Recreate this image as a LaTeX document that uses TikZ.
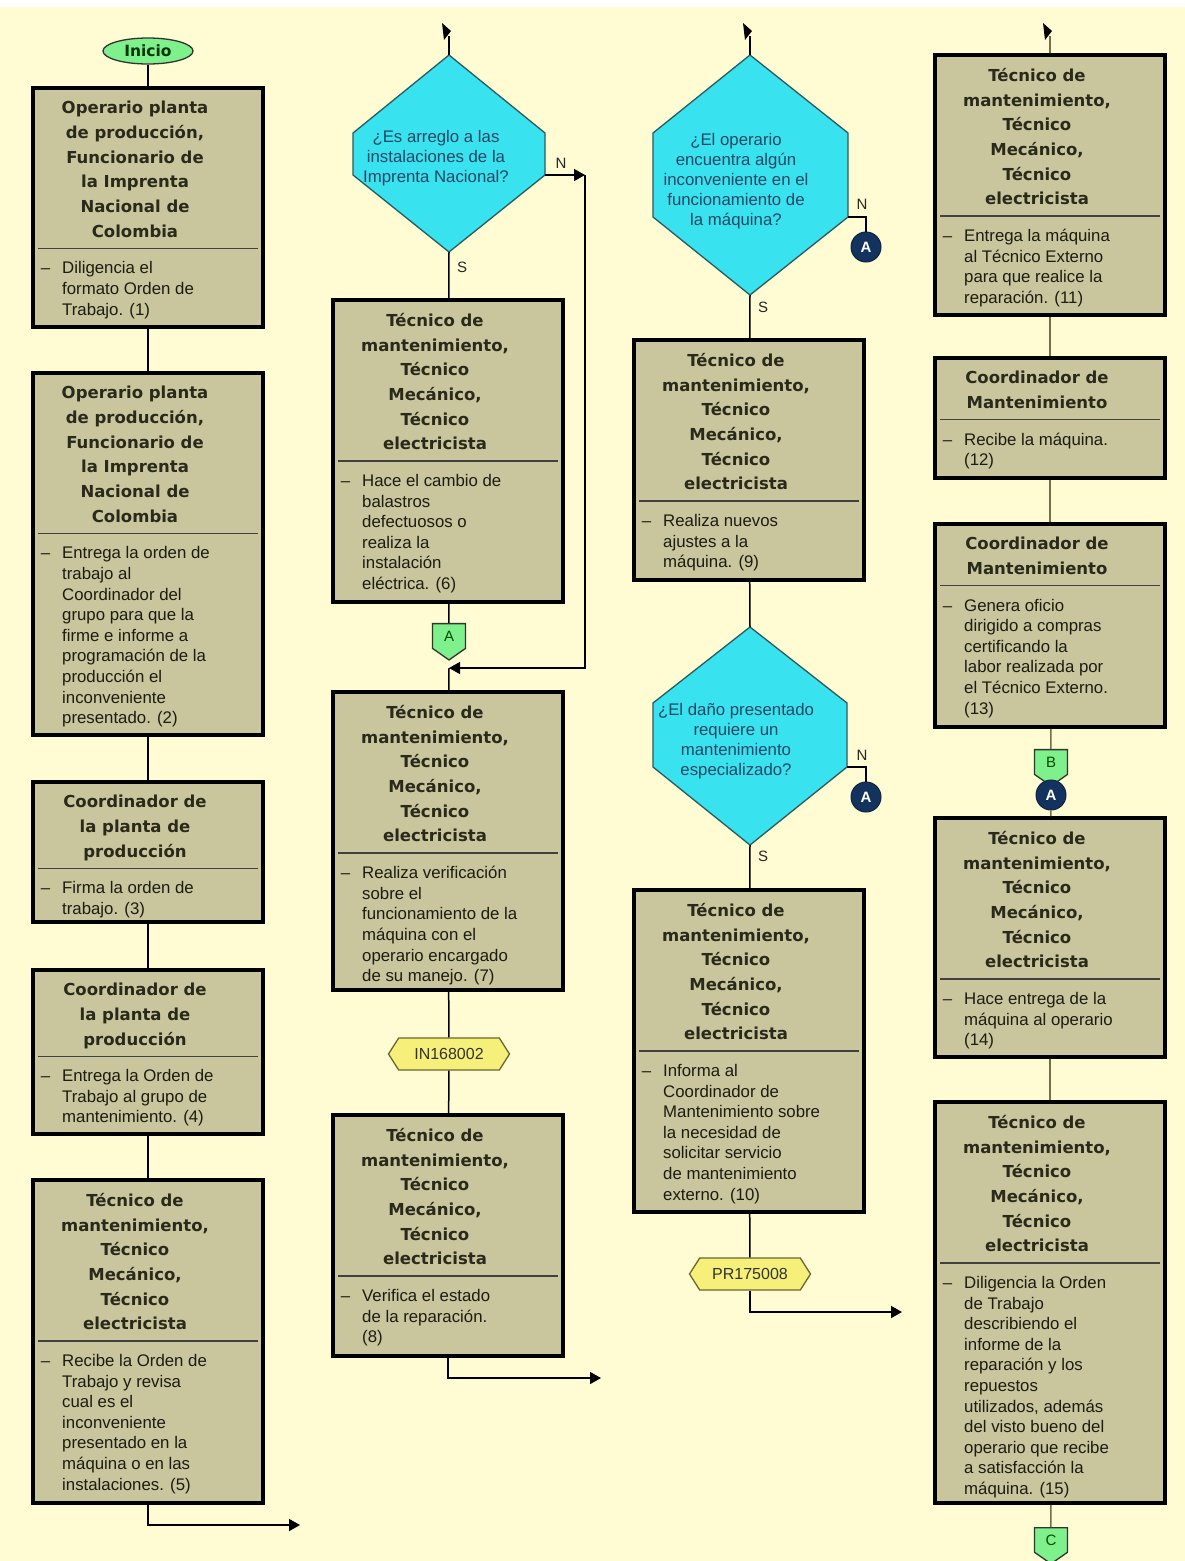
\documentclass[tikz,border=0pt]{standalone}
\usepackage{fontspec}
\setmainfont{Liberation Sans}
\newfontfamily\ttlfont{DejaVu Sans}
\usetikzlibrary{shapes.geometric,shapes.symbols,arrows.meta,fit,calc}
\definecolor{bg}{HTML}{FFFCD3}
\definecolor{boxfill}{HTML}{C9C59C}
\definecolor{cyanfill}{HTML}{38E2EF}
\definecolor{cyanline}{HTML}{2B5A5E}
\definecolor{qtext}{HTML}{234866}
\definecolor{greenfill}{HTML}{7EF08C}
\definecolor{tagfill}{HTML}{F6F07A}
\definecolor{tagline}{HTML}{6A6630}
\definecolor{navy}{HTML}{13335E}
\definecolor{brownline}{HTML}{7A6C4E}
\definecolor{ttlcol}{HTML}{2A2A1C}
\definecolor{bodycol}{HTML}{1C1C12}
\tikzset{
  procbox/.style={draw=black, line width=4pt, fill=boxfill, inner sep=0pt},
  ttl/.style={font=\ttlfont\bfseries\fontsize{16.5}{24.7}\selectfont, text=ttlcol, align=center, inner sep=0pt, text depth=4pt},
  bodytxt/.style={font=\fontsize{16.8}{20.6}\selectfont, text=bodycol, align=left, inner sep=0pt},
  sepline/.style={draw=black!75, line width=1.6pt},
  conn/.style={draw=black, line width=1.5pt},
  bconn/.style={draw=brownline, line width=1.5pt},
  arr/.style={conn, -{Triangle[length=11pt,width=12pt]}},
  decision/.style={draw=cyanline, fill=cyanfill, line width=1.3pt, line join=miter},
  qtxt/.style={font=\fontsize{16.8}{20}\selectfont, text=qtext, align=center, inner sep=0pt},
  lbl/.style={font=\fontsize{15}{18}\selectfont, text=black!85, inner sep=0pt},
  offpage/.style={shape=signal, signal to=south, signal pointer angle=110, fill=greenfill, draw=black!80, line width=1.3pt, minimum width=33pt, minimum height=29pt, inner sep=1pt, font=\fontsize{15}{18}\selectfont, text=green!30!black},
  conA/.style={circle, fill=navy, draw=navy!70!black, line width=1pt, minimum size=30pt, inner sep=0pt, font=\bfseries\fontsize{15}{18}\selectfont, text=white},
  tag/.style={shape=signal, signal to=west and east, signal pointer angle=115, fill=tagfill, draw=tagline, line width=1.3pt, minimum width=121pt, minimum height=32pt, inner sep=2pt, font=\fontsize{16}{18}\selectfont, text=black!80},
  startnode/.style={ellipse, fill=greenfill, draw=black!80, line width=1.3pt, minimum width=90pt, minimum height=26pt, inner sep=0pt, font=\ttlfont\bfseries\fontsize{15.5}{18}\selectfont, text=green!20!black},
}
\newcommand\TecTitle{Técnico de\\mantenimiento,\\Técnico\\Mecánico,\\Técnico\\electricista}
\newcommand\ProcBox[6]{%
  \coordinate (#1-nw) at (#2,#3);
  \coordinate (#1-se) at (#2+230,#4);
  \node[procbox, fit=(#1-nw)(#1-se)] (#1) {};
  \node[ttl, anchor=north] (#1-t) at (#2+102,#3+13) {#5};
  \path (#1-t.south -| #1-nw) coordinate (#1-sl) (#1-t.south -| #1-se) coordinate (#1-sr);
  \draw[sepline] ([xshift=5pt,yshift=-7pt]#1-sl) -- ([xshift=-5pt,yshift=-7pt]#1-sr);
  \node[bodytxt, anchor=north west] (#1-b) at ([xshift=29pt,yshift=-20pt]#1-sl) {\llap{–\hspace{12pt}}#6};
}
\begin{document}
\begin{tikzpicture}[x=1pt,y=-1pt]
\useasboundingbox (0,0) rectangle (1185,1561);
\fill[bg] (0,0) rectangle (1185,1561);
\fill[white] (0,0) rectangle (1185,7);

% ---------------- Column 1
\node[startnode] (start) at (148,51) {Inicio};
\ProcBox{b1}{33}{88}{327}{Operario planta\\de producción,\\Funcionario de\\la Imprenta\\Nacional de\\Colombia}{Diligencia el\\formato Orden de\\Trabajo. (1)}
\ProcBox{b2}{33}{373}{735}{Operario planta\\de producción,\\Funcionario de\\la Imprenta\\Nacional de\\Colombia}{Entrega la orden de\\trabajo al\\Coordinador del\\grupo para que la\\firme e informe a\\programación de la\\producción el\\inconveniente\\presentado. (2)}
\ProcBox{b3}{33}{782}{922}{Coordinador de\\la planta de\\producción}{Firma la orden de\\trabajo. (3)}
\ProcBox{b4}{33}{970}{1134}{Coordinador de\\la planta de\\producción}{Entrega la Orden de\\Trabajo al grupo de\\mantenimiento. (4)}
\ProcBox{b5}{33}{1180}{1503}{\TecTitle}{Recibe la Orden de\\Trabajo y revisa\\cual es el\\inconveniente\\presentado en la\\máquina o en las\\instalaciones. (5)}
\coordinate (out1) at (300,1525);
\draw[conn] (start) -- (b1);
\draw[conn] (b1) -- (b2);
\draw[conn] (b2) -- (b3);
\draw[conn] (b3) -- (b4);
\draw[conn] (b4) -- (b5);
\draw[arr] (b5.south) |- (out1);

% ---------------- Column 2
\draw[decision] (449,55) coordinate (d1-n) -- (545,133) -- (545,175) coordinate (d1-e) -- (449,252) coordinate (d1-s) -- (353,175) -- (353,133) -- cycle;
\node[qtxt] (d1) at (436,158) {¿Es arreglo a las\\instalaciones de la\\Imprenta Nacional?};
\coordinate (in2) at (449,36);
\fill (442,23) -- (451,31) -- (444,40) -- cycle;
\draw[conn] (in2) -- (d1-n);
\coordinate (d1-ne) at (585,175);
\coordinate (j7) at (449,668);
\draw[arr] (d1-e) -- (d1-ne);
\draw[arr] (d1-ne) |- (j7);
\node[lbl] (n1) at (561,163) {N};
\node[lbl] (s1) at (462,267) {S};
\ProcBox{b6}{333}{300}{602}{\TecTitle}{Hace el cambio de\\balastros\\defectuosos o\\realiza la\\instalación\\eléctrica. (6)}
\draw[conn] (d1-s) -- (b6);
\node[offpage] (pA) at (449,636) {A};
\draw[conn] (b6) -- (pA);
\ProcBox{b7}{333}{692}{990}{\TecTitle}{Realiza verificación\\sobre el\\funcionamiento de la\\máquina con el\\operario encargado\\de su manejo. (7)}
\draw[conn] (j7) -- (b7);
\node[tag] (tIN) at (449,1054) {IN168002};
\draw[conn] (b7) -- (tIN);
\ProcBox{b8}{333}{1115}{1356}{\TecTitle}{Verifica el estado\\de la reparación.\\(8)}
\draw[conn] (tIN) -- (b8);
\coordinate (out2) at (601,1378);
\draw[arr] (b8.south) |- (out2);

% ---------------- Column 3
\draw[decision] (750,55) coordinate (d2-n) -- (848,133) -- (848,217) coordinate (d2-e) -- (750,295) coordinate (d2-s) -- (653,217) -- (653,133) -- cycle;
\node[qtxt] (d2) at (736,181) {¿El operario\\encuentra algún\\inconveniente en el\\funcionamiento de\\la máquina?};
\coordinate (in3) at (750,36);
\fill (743,23) -- (752,31) -- (745,40) -- cycle;
\draw[conn] (in3) -- (d2-n);
\node[conA] (cA1) at (866,247) {A};
\draw[conn] (d2-e) -| (cA1);
\node[lbl] (n2) at (862,204) {N};
\node[lbl] (s2) at (763,307) {S};
\ProcBox{b9}{634}{340}{580}{\TecTitle}{Realiza nuevos\\ajustes a la\\máquina. (9)}
\draw[conn] (d2-s) -- (b9);
\draw[decision] (750,627) coordinate (d3-n) -- (847,703) -- (847,767) coordinate (d3-e) -- (750,845) coordinate (d3-s) -- (653,767) -- (653,703) -- cycle;
\node[qtxt] (d3) at (736,741) {¿El daño presentado\\requiere un\\mantenimiento\\especializado?};
\draw[conn] (b9) -- (d3-n);
\node[conA] (cA2) at (866,797) {A};
\draw[conn] (d3-e) -| (cA2);
\node[lbl] (n3) at (862,755) {N};
\node[lbl] (s3) at (763,856) {S};
\ProcBox{b10}{634}{890}{1212}{\TecTitle}{Informa al\\Coordinador de\\Mantenimiento sobre\\la necesidad de\\solicitar servicio\\de mantenimiento\\externo. (10)}
\draw[conn] (d3-s) -- (b10);
\node[tag] (tPR) at (750,1274) {PR175008};
\draw[conn] (b10) -- (tPR);
\coordinate (out3) at (902,1312);
\draw[arr] (tPR.south) |- (out3);

% ---------------- Column 4
\ProcBox{b11}{935}{55}{315}{\TecTitle}{Entrega la máquina\\al Técnico Externo\\para que realice la\\reparación. (11)}
\coordinate (in4) at (1050,36);
\fill (1043,23) -- (1052,31) -- (1045,40) -- cycle;
\draw[bconn] (in4) -- (b11);
\ProcBox{b12}{935}{358}{478}{Coordinador de\\Mantenimiento}{Recibe la máquina.\\(12)}
\ProcBox{b13}{935}{524}{727}{Coordinador de\\Mantenimiento}{Genera oficio\\dirigido a compras\\certificando la\\labor realizada por\\el Técnico Externo.\\(13)}
\node[offpage] (pB) at (1051,762) {B};
\node[conA] (cA3) at (1051,795) {A};
\ProcBox{b14}{935}{818}{1057}{\TecTitle}{Hace entrega de la\\máquina al operario\\(14)}
\ProcBox{b15}{935}{1102}{1503}{\TecTitle}{Diligencia la Orden\\de Trabajo\\describiendo el\\informe de la\\reparación y los\\repuestos\\utilizados, además\\del visto bueno del\\operario que recibe\\a satisfacción la\\máquina. (15)}
\node[offpage] (pC) at (1051,1540) {C};
\draw[bconn] (b11) -- (b12);
\draw[bconn] (b12) -- (b13);
\draw[bconn] (b13) -- (pB);
\draw[bconn] (cA3) -- (b14);
\draw[bconn] (b14) -- (b15);
\draw[bconn] (b15) -- (pC);
\end{tikzpicture}
\end{document}
